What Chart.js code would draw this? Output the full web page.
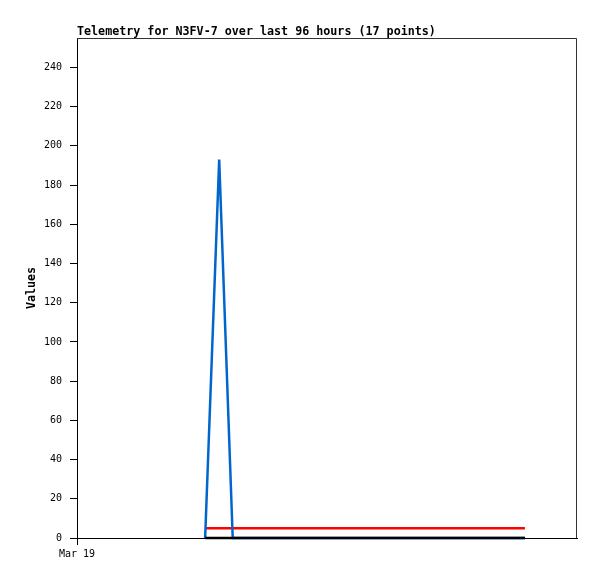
<!DOCTYPE html>
<html>
<head>
<meta charset="utf-8">
<script src="https://cdn.jsdelivr.net/npm/chart.js@4"></script>
<style>
html,body{margin:0;padding:0;background:#fff;}
#wrap{width:597px;height:579px;position:relative;}
</style>
</head>
<body>
<div id="wrap"><canvas id="c" width="597" height="579"></canvas></div>
<script>
// Data (x in hours since Mar 19 00:00)
const titleText = "Telemetry for N3FV-7 over last 96 hours (17 points)";
const yTitle = "Values";
const xTickLabels = ["Mar 19"];
const xTickHours = [0];
const blueHours = [24.6, 27.3, 29.9, 86.0];
const blueValues = [0, 193, 0, 0];
const redHours = [24.6, 86.0];
const redValues = [5, 5];
const blackHours = [24.6, 86.0];
const blackValues = [0, 0];
const yTicks = [0, 20, 40, 60, 80, 100, 120, 140, 160, 180, 200, 220, 240];

const toPts = (xs, ys) => xs.map((x, i) => ({x: x, y: ys[i]}));

const mono = "'DejaVu Sans Mono', monospace";

const decor = {
  id: 'decor',
  afterDatasetsDraw(chart) {
    const {ctx, chartArea: a} = chart;
    ctx.save();
    ctx.strokeStyle = '#333';
    ctx.lineWidth = 1;
    ctx.beginPath();
    ctx.moveTo(a.left, a.top + 0.5);
    ctx.lineTo(a.right - 0.5, a.top + 0.5);
    ctx.lineTo(a.right - 0.5, a.bottom);
    ctx.stroke();
    ctx.fillStyle = '#000';
    ctx.font = "bold 11.7px " + mono;
    ctx.textBaseline = 'middle';
    ctx.textAlign = 'left';
    ctx.fillText(titleText, a.left, 31.5);
    ctx.translate(32, (a.top + a.bottom) / 2);
    ctx.rotate(-Math.PI / 2);
    ctx.textAlign = 'center';
    ctx.fillText(yTitle, 0, 0);
    ctx.restore();
  }
};

new Chart(document.getElementById('c'), {
  type: 'line',
  data: {
    datasets: [
      {data: toPts(blackHours, blackValues), borderColor: '#000000', borderWidth: 2.5, pointRadius: 0, tension: 0, order: 0, clip: 4},
      {data: toPts(blueHours, blueValues), borderColor: '#0066cc', borderWidth: 2.5, pointRadius: 0, tension: 0, order: 1, clip: 4},
      {data: toPts(redHours, redValues), borderColor: '#ff0000', borderWidth: 2.5, pointRadius: 0, tension: 0, order: 2, clip: 4}
    ]
  },
  plugins: [decor],
  options: {
    responsive: false,
    animation: false,
    devicePixelRatio: 1,
    layout: {padding: {top: 38, right: 20, left: 0, bottom: 0}},
    plugins: {legend: {display: false}, tooltip: {enabled: false}, title: {display: false}},
    scales: {
      x: {
        type: 'linear', min: 0, max: 96,
        afterFit(s) { s.height = 41; },
        afterBuildTicks(s) { s.ticks = xTickHours.map(v => ({value: v})); },
        ticks: {
          autoSkip: false, maxRotation: 0, padding: 3, color: '#000',
          font: {family: mono, size: 10},
          callback: (v) => { const i = xTickHours.indexOf(v); return i >= 0 ? xTickLabels[i] : ''; }
        },
        grid: {drawOnChartArea: false, tickLength: 7, color: '#000', tickColor: '#000'},
        border: {color: '#000', width: 1}
      },
      y: {
        type: 'linear', min: 0, max: 255,
        afterFit(s) { s.width = 77; },
        afterBuildTicks(s) { s.ticks = yTicks.map(v => ({value: v})); },
        ticks: {padding: 8, color: '#000', font: {family: mono, size: 10}},
        grid: {drawOnChartArea: false, tickLength: 7, color: '#000', tickColor: '#000'},
        border: {color: '#000', width: 1}
      }
    }
  }
});
</script>
</body>
</html>
